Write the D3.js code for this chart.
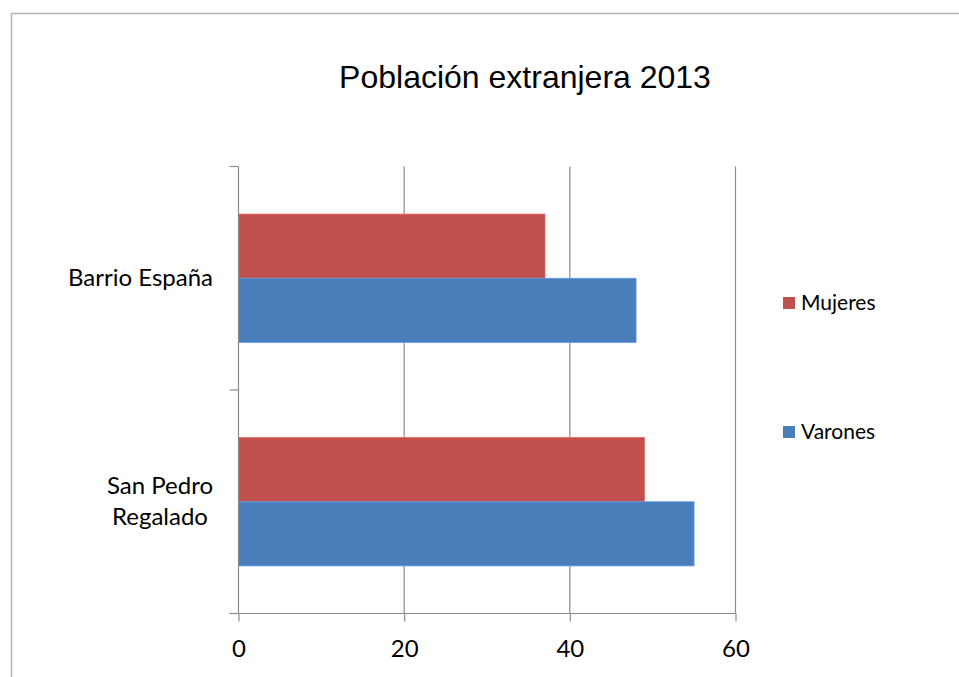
<!DOCTYPE html>
<html>
<head>
<meta charset="utf-8">
<script src="https://cdn.jsdelivr.net/npm/d3@7"></script>
<style>
  html, body { margin: 0; background: #fff; overflow: hidden; }
  svg { display: block; }
  svg text { font-family: Lato, "Open Sans", sans-serif; fill: #000; }
</style>
</head>
<body>
<svg id="chart" width="959" height="677"></svg>
<script>
"use strict";

// data
var categories = ['Barrio España', 'San Pedro Regalado'];
var categoryLines = [['Barrio España'], ['San Pedro', 'Regalado']];
var seriesNames = ['Mujeres', 'Varones'];
var mujeres = [37, 49];
var varones = [48, 55];
var xTicks = [0, 20, 40, 60];
var colors = { Mujeres: '#C0504D', Varones: '#4A7EBB' };

var svg = d3.select('#chart');

// outer frame of the chart object (only top and left edges are in view)
svg.append('path')
    .attr('d', 'M11.5,677V13.5H959')
    .attr('fill', 'none').attr('stroke', '#b3b3b3').attr('stroke-width', 1.5);

svg.append('text')
    .attr('x', 525).attr('y', 88)
    .attr('text-anchor', 'middle')
    .style('font-family', '"Liberation Sans", Arial, sans-serif')
    .style('font-size', '32px')
    .text('Población extranjera 2013');

var plot = { left: 238.5, right: 735.5, top: 166.5, bottom: 613.5 };

var x = d3.scaleLinear().domain([0, 60]).range([plot.left, plot.right]);
var y = d3.scaleBand().domain(categories).range([plot.top, plot.bottom]).padding(0);
var yInner = d3.scaleBand().domain(seriesNames).range([0, y.bandwidth()])
    .paddingInner(0).paddingOuter(0.742);

// vertical gridlines
svg.append('g').selectAll('line')
    .data(xTicks.slice(1))
    .join('line')
    .attr('x1', function (d) { return x(d); })
    .attr('x2', function (d) { return x(d); })
    .attr('y1', plot.top).attr('y2', plot.bottom)
    .attr('stroke', '#8c8c8c').attr('stroke-width', 1.2);

var rows = categories.map(function (c, i) {
    return { cat: c, values: [
        { name: 'Mujeres', v: mujeres[i] },
        { name: 'Varones', v: varones[i] }
    ] };
});

svg.append('g').selectAll('g')
    .data(rows)
    .join('g')
    .attr('transform', function (d) { return 'translate(0,' + y(d.cat) + ')'; })
    .selectAll('rect')
    .data(function (d) { return d.values; })
    .join('rect')
    .attr('x', x(0))
    .attr('y', function (d) { return yInner(d.name); })
    .attr('width', function (d) { return x(d.v) - x(0); })
    .attr('height', yInner.bandwidth())
    .attr('fill', function (d) { return colors[d.name]; })
    .attr('stroke', function (d) { return d3.color(colors[d.name]).brighter(0.6); })
    .attr('stroke-width', 0.8);

// x axis
var xAxis = svg.append('g')
    .attr('transform', 'translate(0,' + plot.bottom + ')')
    .call(d3.axisBottom(x).tickValues(xTicks).tickSizeInner(8).tickSizeOuter(0).tickPadding(18));
xAxis.select('.domain').attr('stroke', '#8c8c8c').attr('stroke-width', 1.2)
    .attr('d', 'M' + (plot.left - 9) + ',0H' + plot.right);
xAxis.selectAll('.tick line').attr('stroke', '#8c8c8c').attr('stroke-width', 1.2);
xAxis.selectAll('.tick text')
    .style('font-family', 'Lato, "Open Sans", sans-serif')
    .style('font-size', '24px').attr('fill', '#000');

// y axis with category dividers as ticks
var yAxis = svg.append('g')
    .attr('transform', 'translate(' + plot.left + ',0)');
yAxis.append('line')
    .attr('x1', 0).attr('x2', 0)
    .attr('y1', plot.top).attr('y2', plot.bottom)
    .attr('stroke', '#8c8c8c').attr('stroke-width', 1.2);
yAxis.selectAll('.divider')
    .data(categories.concat(['end']))
    .join('line')
    .attr('class', 'divider')
    .attr('x1', -9).attr('x2', 0)
    .attr('y1', function (d, i) { return plot.top + i * y.step(); })
    .attr('y2', function (d, i) { return plot.top + i * y.step(); })
    .attr('stroke', '#8c8c8c').attr('stroke-width', 1.2);

var labels = svg.append('g').selectAll('text')
    .data(categories)
    .join('text')
    .attr('text-anchor', 'middle')
    .style('font-size', '24px');
labels.each(function (d, i) {
    var lines = categoryLines[i];
    var cy = y(d) + y.bandwidth() / 2;
    var lh = 31;
    var t = d3.select(this);
    lines.forEach(function (ln, j) {
        t.append('tspan')
            .attr('x', 0)
            .attr('y', cy + (j - (lines.length - 1) / 2) * lh + 8)
            .text(ln);
    });
    var w = this.getBBox().width;
    t.selectAll('tspan').attr('x', 213 - w / 2);
});

// legend
var legend = svg.append('g').selectAll('g')
    .data(seriesNames)
    .join('g')
    .attr('transform', function (d, i) { return 'translate(783,' + (303 + i * 129) + ')'; });
legend.append('rect')
    .attr('x', 0).attr('y', -6).attr('width', 12).attr('height', 12)
    .attr('fill', function (d) { return colors[d]; });
legend.append('text')
    .attr('x', 18).attr('y', 7)
    .style('font-size', '21px')
    .text(function (d) { return d; });
</script>
</body>
</html>
